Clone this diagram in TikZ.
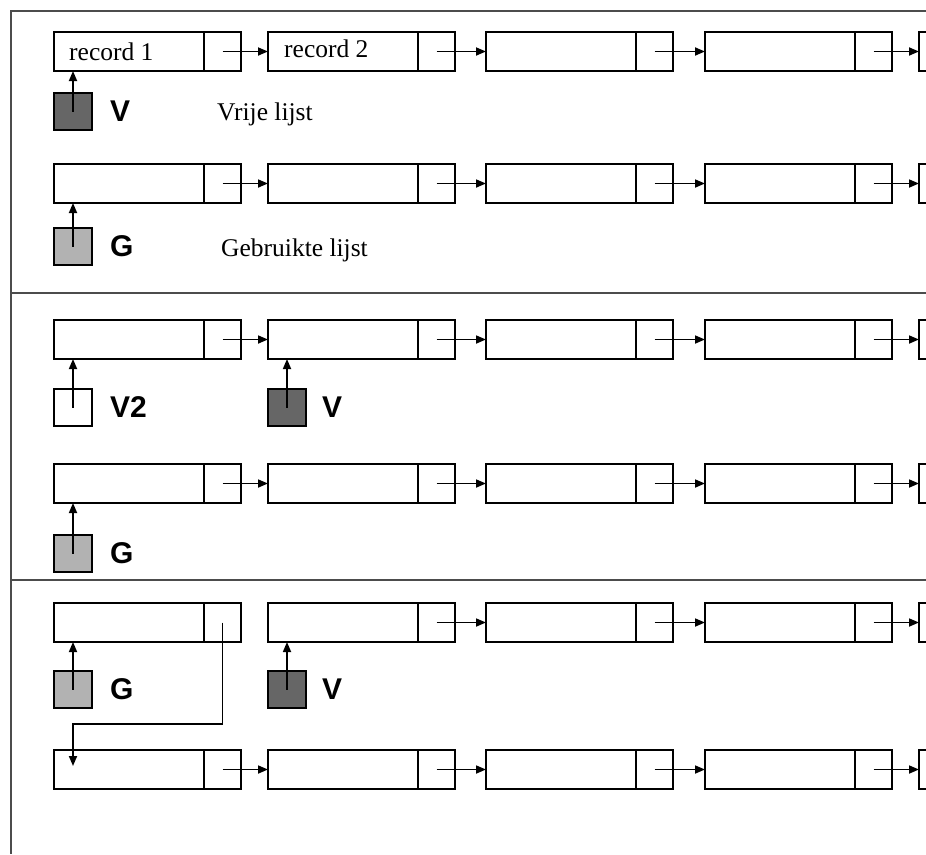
\documentclass[tikz,border=0pt]{standalone}
\usepackage{fontspec}
\setmainfont{Liberation Serif}
\newfontfamily\lsans{Liberation Sans}
\usetikzlibrary{arrows.meta}
\definecolor{vfill}{gray}{0.40}
\definecolor{gfill}{gray}{0.70}
\definecolor{framecol}{gray}{0.30}
\begin{document}
\begin{tikzpicture}[x=1pt,y=-1pt,
  datacell/.style={draw, line width=2.6pt, minimum width=150pt, minimum height=39pt,
    inner sep=0pt, outer sep=0pt, anchor=north west},
  ptrcell/.style={draw, line width=2.6pt, minimum width=37pt, minimum height=39pt,
    inner sep=0pt, outer sep=0pt, anchor=north west},
  ptr/.style={line width=1.7pt, -{Triangle[length=10pt,width=8pt]}},
  sq/.style={draw, line width=2.6pt, minimum width=38pt, minimum height=37pt,
    inner sep=0pt, outer sep=0pt, anchor=north west},
  vsq/.style={sq, fill=vfill},
  gsq/.style={sq, fill=gfill},
  wsq/.style={sq, fill=white},
  lab/.style={font=\lsans\bfseries\fontsize{30}{35}\selectfont, inner sep=0pt, anchor=west},
  captext/.style={font=\fontsize{25.5}{30}\selectfont, inner sep=0pt, anchor=base west},
  rectext/.style={font=\fontsize{25.5}{30}\selectfont, inner sep=0pt, anchor=base west},
  frameline/.style={draw=framecol, line width=2pt}
]
\useasboundingbox (0,0) rectangle (926,854);
\clip (0,0) rectangle (926,854);

% frame
\draw[frameline] (10,11) -- (926,11);
\draw[frameline] (11,11) -- (11,854);
\draw[frameline] (11,293) -- (926,293);
\draw[frameline] (11,580) -- (926,580);

% record rows
\foreach \r/\y in {1/32,2/164,3/320,4/464,5/603,6/750}{
  \foreach \c/\x in {1/54,2/268,3/486,4/705,5/919}{
    \node[datacell] (d\r\c) at (\x,\y) {};
    \node[ptrcell] (p\r\c) at (d\r\c.north east) {};
  }
}
\node[rectext] (t1) at (69,60) {record 1};
\node[rectext] (t2) at (284,57) {record 2};

% arrows between records
\foreach \r in {1,2,3,4,6}{
  \draw[ptr] (p\r1.center) -- (d\r2.west);
}
\foreach \r in {1,...,6}{
  \foreach \c/\n in {2/3,3/4,4/5}{
    \draw[ptr] (p\r\c.center) -- (d\r\n.west);
  }
}

% section 1
\node[vsq] (s1) at (54,93) {};
\draw[ptr] (s1.center) -- (s1.center |- d11.south);
\node[lab] (l1) at ([xshift=18pt]s1.east) {V};
\node[captext] (c1) at (217,120) {Vrije lijst};

\node[gsq] (s2) at (54,228) {};
\draw[ptr] (s2.center) -- (s2.center |- d21.south);
\node[lab] (l2) at ([xshift=18pt]s2.east) {G};
\node[captext] (c2) at (221,256) {Gebruikte lijst};

% section 2
\node[wsq] (s3) at (54,389) {};
\draw[ptr] (s3.center) -- (s3.center |- d31.south);
\node[lab] (l3) at ([xshift=18pt]s3.east) {V2};
\node[vsq] (s3b) at (268,389) {};
\draw[ptr] (s3b.center) -- (s3b.center |- d32.south);
\node[lab] (l3b) at ([xshift=16pt]s3b.east) {V};

\node[gsq] (s4) at (54,535) {};
\draw[ptr] (s4.center) -- (s4.center |- d41.south);
\node[lab] (l4) at ([xshift=18pt]s4.east) {G};

% section 3
\node[gsq] (s5) at (54,671) {};
\draw[ptr] (s5.center) -- (s5.center |- d51.south);
\node[lab] (l5) at ([xshift=18pt]s5.east) {G};
\node[vsq] (s5b) at (268,671) {};
\draw[ptr] (s5b.center) -- (s5b.center |- d52.south);
\node[lab] (l5b) at ([xshift=16pt]s5b.east) {V};

\coordinate (k1) at (73,724);
\coordinate (e6) at (73,766);
\draw[ptr] (p51.center) |- (k1) -- (e6);
\end{tikzpicture}
\end{document}
